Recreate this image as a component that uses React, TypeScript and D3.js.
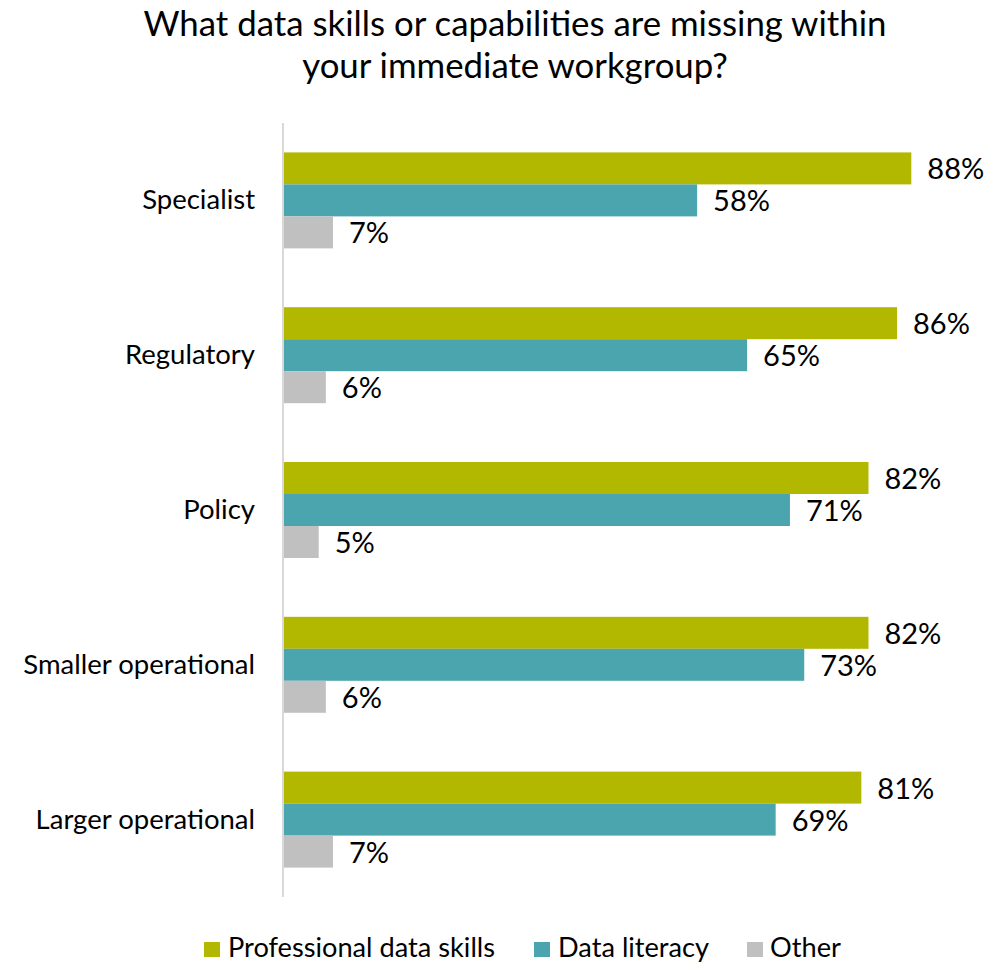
import React from "react";
import * as d3 from "d3";

const categories = ["Specialist", "Regulatory", "Policy", "Smaller operational", "Larger operational"];
const seriesNames = ["Professional data skills", "Data literacy", "Other"];
const professional = [88, 86, 82, 82, 81];
const literacy = [58, 65, 71, 73, 69];
const other = [7, 6, 5, 6, 7];
const colors = ["#B2B800", "#4BA5AE", "#C0C0C0"];

const W = 1007;
const H = 963;
const FONT = "Lato, 'Open Sans', sans-serif";

export default function App() {
  const series = [professional, literacy, other];
  const x = d3.scaleLinear().domain([0, 100]).range([283, 283 + 714]);
  const y = d3.scaleBand<string>().domain(categories).range([123, 897]).paddingInner(0.38).paddingOuter(0.19);
  const inner = d3.scaleBand<number>().domain([0, 1, 2]).range([0, y.bandwidth()]);

  const legendItems = [
    { name: seriesNames[0], sx: 204, tx: 228 },
    { name: seriesNames[1], sx: 534, tx: 558 },
    { name: seriesNames[2], sx: 747, tx: 770 },
  ];

  return (
    <svg width={W} height={H} style={{ position: "absolute", left: 0, top: 0 }} fontFamily={FONT}>
      <rect width={W} height={H} fill="#fff" />
      <text x={515} y={36} textAnchor="middle" fontSize={34.8} fill="#000">
        What data skills or capabilities are missing within
      </text>
      <text x={515} y={78} textAnchor="middle" fontSize={34.8} fill="#000">
        your immediate workgroup?
      </text>
      {categories.map((c, i) => (
        <g key={c}>
          {series.map((s, j) => {
            const yy = (y(c) as number) + (inner(j) as number);
            return (
              <g key={j}>
                <rect x={x(0)} y={yy} width={x(s[i]) - x(0)} height={inner.bandwidth()} fill={colors[j]} />
                <text x={x(s[i]) + 16} y={yy + inner.bandwidth() / 2 + 11} fontSize={29} fill="#000">
                  {s[i]}%
                </text>
              </g>
            );
          })}
          <text x={255} y={(y(c) as number) + y.bandwidth() / 2 + 9} textAnchor="end" fontSize={27.5} fill="#000">
            {c}
          </text>
        </g>
      ))}
      <line x1={283} x2={283} y1={123} y2={897} stroke="#D9D9D9" strokeWidth={2} />
      {legendItems.map((l, j) => (
        <g key={l.name}>
          <rect x={l.sx} y={942} width={16} height={15} fill={colors[j]} />
          <text x={l.tx} y={957} fontSize={27.2} fill="#000">
            {l.name}
          </text>
        </g>
      ))}
    </svg>
  );
}
